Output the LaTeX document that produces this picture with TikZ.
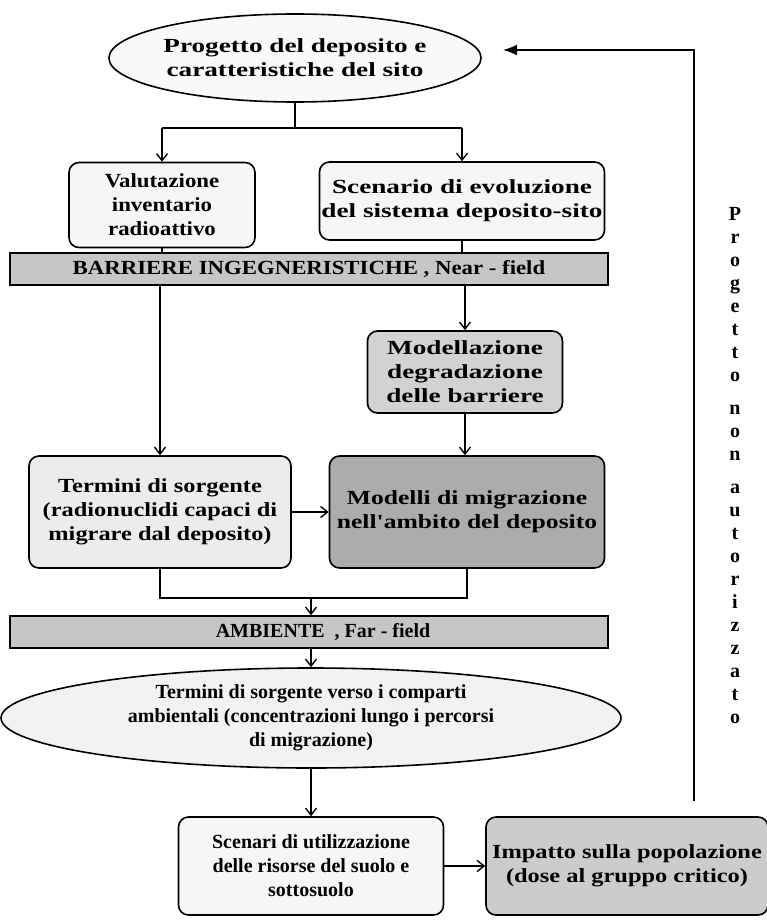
\documentclass[tikz,border=0pt]{standalone}
\usepackage{fontspec}
\setmainfont{Liberation Serif}
\newfontfamily\fwA{Liberation Serif}[FakeStretch=1.36]
\newfontfamily\fwB{Liberation Serif}[FakeStretch=1.14]
\newfontfamily\fwC{Liberation Serif}[FakeStretch=1.22]
\newfontfamily\fwD{Liberation Serif}[FakeStretch=1.28]
\usetikzlibrary{shapes.geometric,arrows.meta}
\begin{document}
\begin{tikzpicture}[x=1pt,y=-1pt,
  txt/.style={font=\bfseries\fontsize{20}{24}\selectfont, align=center, inner sep=0pt},
  rbox/.style={txt, draw, line width=1.6pt, rounded corners=10pt},
  bar/.style={txt, draw, line width=1.6pt, fill=gray!45, minimum width=598pt, minimum height=32pt},
  ell/.style={txt, draw, line width=1.6pt, ellipse, inner sep=0pt},
  conn/.style={line width=1.6pt},
  arr/.style={conn, -{Straight Barb[length=7pt,width=11pt,line width=1.4pt]}}
]
\useasboundingbox (0,0) rectangle (766,920);
\fill[white] (0,0) rectangle (766,920);

% nodes
\node[ell, fill=gray!5, minimum width=362pt, minimum height=88pt] (e1) at (295,58) {\fwA Progetto del deposito e\\\fwA caratteristiche del sito};
\node[rbox, fill=gray!7, minimum width=186pt, minimum height=85pt] (val) at (162,205) {\fwB Valutazione\\\fwB inventario\\\fwB radioattivo};
\node[rbox, fill=gray!7, minimum width=285pt, minimum height=78pt] (sce) at (462,201) {\fwA Scenario di evoluzione\\\fwA del sistema deposito-sito};
\node[bar] (bar1) at (309,269) {\fwB BARRIERE INGEGNERISTICHE , Near - field};
\node[rbox, fill=gray!35, minimum width=195pt, minimum height=82pt] (mod) at (465,372) {\fwA Modellazione\\\fwA degradazione\\\fwA delle barriere};
\node[rbox, fill=gray!15, minimum width=262pt, minimum height=112pt] (ter) at (160,512) {\fwC Termini di sorgente\\\fwC (radionuclidi capaci di\\\fwC migrare dal deposito)};
\node[rbox, fill=gray!65, minimum width=275pt, minimum height=112pt] (mig) at (467,512) {\fwD Modelli di migrazione\\\fwD nell'ambito del deposito};
\node[bar] (bar2) at (309,632) {\hspace*{28pt}AMBIENTE\ \ , Far - field};
\node[ell, fill=gray!10, minimum width=620pt, minimum height=100pt] (e2) at (311,718) {Termini di sorgente verso i comparti\\ambientali (concentrazioni lungo i percorsi\\di migrazione)};
\node[rbox, fill=gray!7, minimum width=265pt, minimum height=98pt] (scr) at (311,866) {Scenari di utilizzazione\\delle risorse del suolo e\\sottosuolo};
\node[rbox, fill=gray!40, minimum width=282pt, minimum height=98pt] (imp) at (627,866) {\fwC Impatto sulla popolazione\\\fwC (dose al gruppo critico)};

\node[font=\bfseries\fontsize{20}{23}\selectfont, align=center, inner sep=0pt] (vt) at (735,466)
  {P\\r\\o\\g\\e\\t\\t\\o\\[10pt]n\\o\\n\\[10pt]a\\u\\t\\o\\r\\i\\z\\z\\a\\t\\o};

% coordinates
\coordinate (j1) at (295,128);
\coordinate (j1l) at (val.north |- j1);
\coordinate (j1r) at (sce.north |- j1);
\coordinate (j2) at (311,598);
\coordinate (j2l) at (ter.south |- j2);
\coordinate (j2r) at (mig.south |- j2);
\coordinate (fbstart) at (694,801);
\coordinate (fbcorner) at (694,50);
\coordinate (fbtip) at (503,50);

% connectors
\draw[conn] (e1.south) -- (j1);
\draw[conn] (j1l) -- (j1r);
\draw[arr] (j1l) -- (val.north);
\draw[arr] (j1r) -- (sce.north);
\draw[conn] (val.south) -- (val.south |- bar1.north);
\draw[conn] (sce.south) -- (sce.south |- bar1.north);
\draw[arr] (ter.north |- bar1.south) -- (ter.north);
\draw[arr] (mod.north |- bar1.south) -- (mod.north);
\draw[arr] (mod.south) -- (mig.north -| mod.south);
\draw[arr] (ter.east) -- (mig.west);
\draw[conn] (ter.south) -- (j2l) -- (j2r) -- (mig.south);
\draw[arr] (j2) -- (bar2.north -| j2);
\draw[arr] (bar2.south -| e2.north) -- (e2.north);
\draw[arr] (e2.south) -- (scr.north);
\draw[arr] (scr.east) -- (imp.west);
\draw[conn, -{Latex[length=14pt,width=11pt]}] (fbstart) -- (fbcorner) -- (fbtip);
\end{tikzpicture}
\end{document}
